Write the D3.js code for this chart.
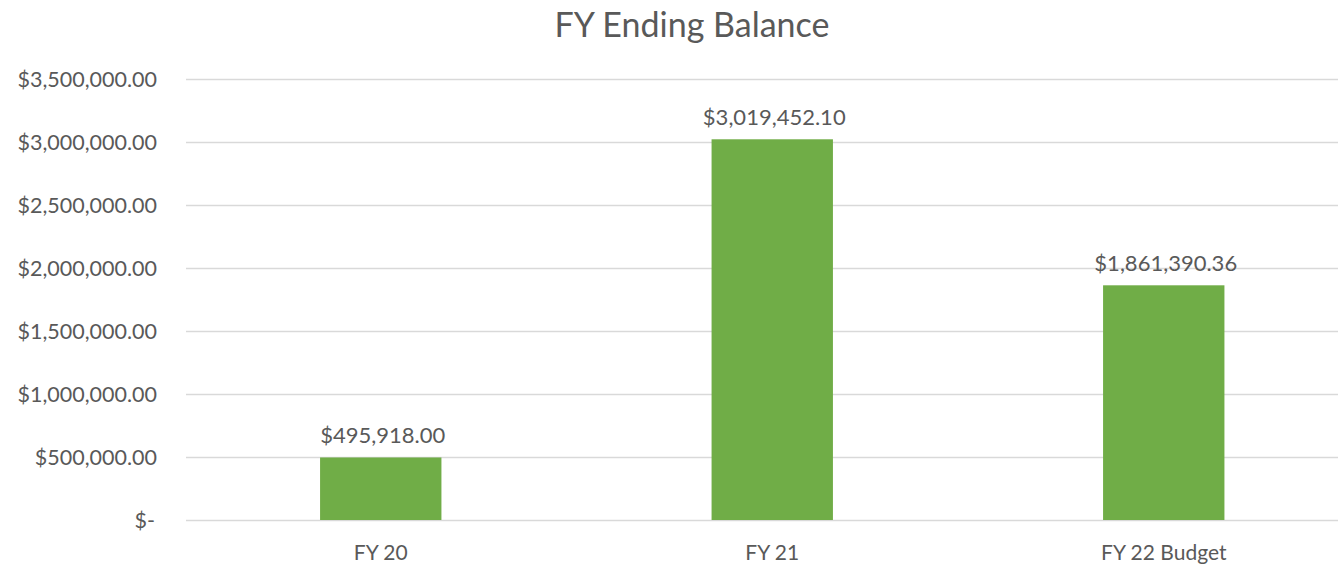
<!DOCTYPE html>
<html>
<head>
<meta charset="utf-8">
<script src="https://cdn.jsdelivr.net/npm/d3@7"></script>
<style>
  html, body { margin: 0; padding: 0; background: #fff; }
  svg { display: block; }
  text { font-family: Lato, "Open Sans", sans-serif; fill: #595959; }
</style>
</head>
<body>
<svg id="chart" width="1338" height="565"></svg>
<script>
const categories = ["FY 20", "FY 21", "FY 22 Budget"];
const values = [495918.00, 3019452.10, 1861390.36];
const yTicks = [0, 500000, 1000000, 1500000, 2000000, 2500000, 3000000, 3500000];
const title = "FY Ending Balance";

(function () {
const svg = d3.select("#chart");
const W = 1338, H = 565;
const pLeft = 185, pRight = 1359.5, pTop = 78.7, pBottom = 520;

const x = d3.scaleBand().domain(categories).range([pLeft, pRight]).paddingInner(0.69).paddingOuter(0.345);
const y = d3.scaleLinear().domain([0, 3500000]).range([pBottom, pTop]);

const money = d3.format(",.2f");
const tickFmt = v => v === 0 ? "$-" : "$" + money(v);

// gridlines
svg.append("g").selectAll("line").data(yTicks).join("line")
  .attr("x1", 186).attr("x2", W)
  .attr("y1", d => Math.round(y(d)) + 0.5).attr("y2", d => Math.round(y(d)) + 0.5)
  .attr("stroke", "#d9d9d9").attr("stroke-width", 1.5);

// y axis labels
const yAxis = d3.axisLeft(y).tickValues(yTicks).tickFormat(tickFmt).tickSize(0).tickPadding(0);
const ya = svg.append("g").attr("transform", `translate(157,0)`).call(yAxis);
ya.select(".domain").remove();
ya.selectAll("text").attr("font-size", 21.5).attr("fill", "#595959")
  .style("font-family", "Lato, sans-serif").attr("dy", "0.35em");
ya.selectAll("text").filter(d => d === 0).attr("dx", -2);

// bars
svg.append("g").selectAll("rect").data(values).join("rect")
  .attr("x", (d, i) => x(categories[i]))
  .attr("width", x.bandwidth())
  .attr("y", d => y(d))
  .attr("height", d => y(0) - y(d))
  .attr("fill", "#70ad47");

// value labels
svg.append("g").selectAll("text").data(values).join("text")
  .attr("x", (d, i) => x(categories[i]) + x.bandwidth() / 2 + 2)
  .attr("y", d => y(d) - 14)
  .attr("text-anchor", "middle")
  .attr("font-size", 22)
  .text(d => "$" + money(d));

// x axis labels
const xAxis = d3.axisBottom(x).tickSize(0).tickPadding(0);
const xa = svg.append("g").attr("transform", `translate(0,${pBottom})`).call(xAxis);
xa.select(".domain").remove();
xa.selectAll("text").attr("font-size", 21).attr("fill", "#595959")
  .style("font-family", "Lato, sans-serif").attr("y", 40).attr("dy", 0);

// title
svg.append("text").attr("x", 692).attr("y", 37).attr("text-anchor", "middle")
  .attr("font-size", 34).text(title);
})();
</script>
</body>
</html>
